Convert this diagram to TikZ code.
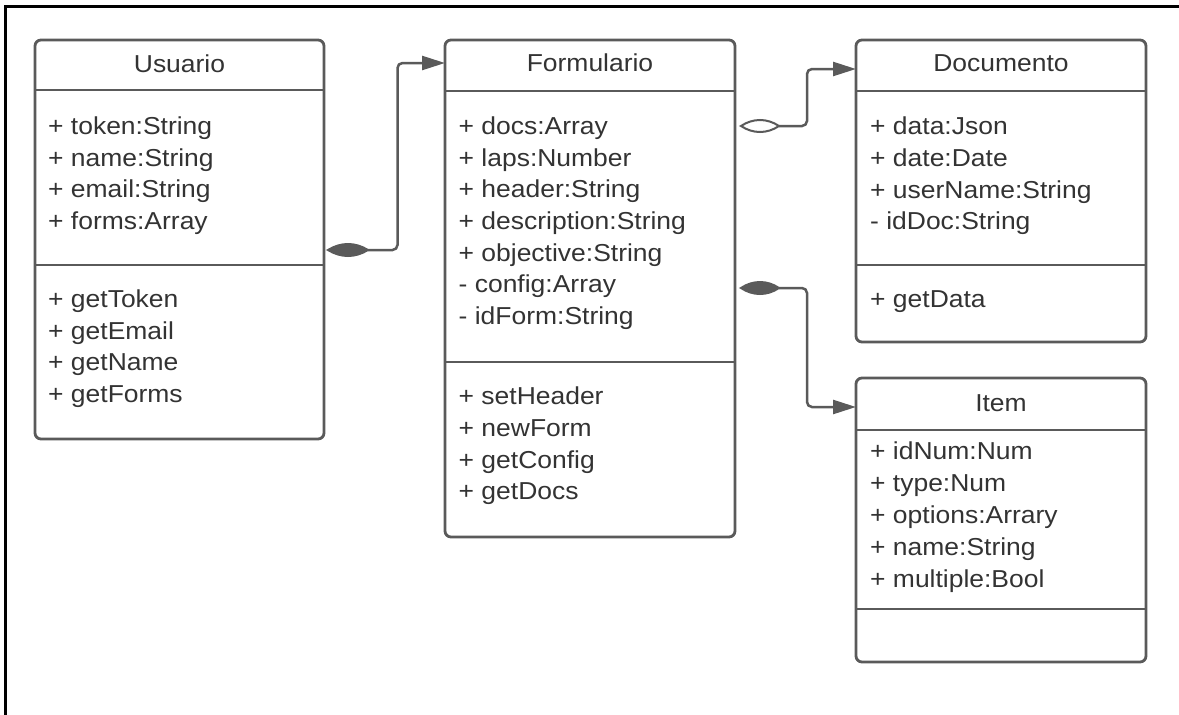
\documentclass[tikz,border=0pt]{standalone}
\usepackage{fontspec}
\setmainfont{Liberation Sans}[FakeStretch=1.08]
\usetikzlibrary{arrows.meta,calc}
\definecolor{edgec}{HTML}{5A5A5A}
\definecolor{ink}{HTML}{333333}
\begin{document}
\begin{tikzpicture}[x=1pt,y=-1pt,
  cls/.style={draw=edgec, line width=2.8pt, rounded corners=6pt, fill=white, inner sep=0pt, outer sep=0pt},
  sepline/.style={draw=edgec, line width=2.8pt},
  attr/.style={anchor=mid west, inner sep=0pt, text=ink, font=\fontsize{24.5}{28}\selectfont},
  ttl/.style={anchor=mid, inner sep=0pt, text=ink, font=\fontsize{24.5}{28}\selectfont},
  conn/.style={draw=edgec, line width=2.5pt, rounded corners=5pt},
  tipend/.style={-{Triangle[length=23pt,width=14pt]}},
  lensfull/.style={draw=edgec, line width=2pt, fill=edgec},
  lensopen/.style={draw=edgec, line width=2pt, fill=white},
  frameline/.style={draw=black, line width=3.3pt}]
\useasboundingbox (0,0) rectangle (1179,715);
% outer frame (top and left edges)
\draw[frameline] (4,6.5) -- (1179,6.5);
\draw[frameline] (5.7,5) -- (5.7,715);

% class boxes
\node[cls, minimum width=289pt, minimum height=399pt] (u) at (179.5,239.5) {};
\node[cls, minimum width=290pt, minimum height=497pt] (f) at (590,288.5) {};
\node[cls, minimum width=290pt, minimum height=302pt] (d) at (1001,191) {};
\node[cls, minimum width=290pt, minimum height=284pt] (i) at (1001,520) {};

% separators
\draw[sepline] (u.west |- 0,90) -- (u.east |- 0,90);
\draw[sepline] (u.west |- 0,265) -- (u.east |- 0,265);
\draw[sepline] (f.west |- 0,91) -- (f.east |- 0,91);
\draw[sepline] (f.west |- 0,362) -- (f.east |- 0,362);
\draw[sepline] (d.west |- 0,91) -- (d.east |- 0,91);
\draw[sepline] (d.west |- 0,265) -- (d.east |- 0,265);
\draw[sepline] (i.west |- 0,430) -- (i.east |- 0,430);
\draw[sepline] (i.west |- 0,609) -- (i.east |- 0,609);

% titles
\node[ttl] (ut) at (179.5,69.5) {Usuario};
\node[ttl] (ft) at (590,68.5) {Formulario};
\node[ttl] (dt) at (1001,69) {Documento};
\node[ttl] (it) at (1001,408.5) {Item};

% Usuario
\foreach \t [count=\k] in {+ token:String,+ name:String,+ email:String,+ forms:Array}
  \node[attr] (ua\k) at (48,{132+31.6*(\k-1)}) {\t};
\foreach \t [count=\k] in {+ getToken,+ getEmail,+ getName,+ getForms}
  \node[attr] (um\k) at (48,{305+31.6*(\k-1)}) {\t};

% Formulario
\foreach \t [count=\k] in {+ docs:Array,+ laps:Number,+ header:String,+ description:String,+ objective:String,- config:Array,- idForm:String}
  \node[attr] (fa\k) at (458.5,{131.7+31.7*(\k-1)}) {\t};
\foreach \t [count=\k] in {+ setHeader,+ newForm,+ getConfig,+ getDocs}
  \node[attr] (fm\k) at (458.5,{402+31.7*(\k-1)}) {\t};

% Documento
\foreach \t [count=\k] in {+ data:Json,+ date:Date,+ userName:String,- idDoc:String}
  \node[attr] (da\k) at (870,{132+31.7*(\k-1)}) {\t};
\node[attr] (dm1) at (870,305) {+ getData};

% Item
\foreach \t [count=\k] in {+ idNum:Num,+ type:Num,+ options:Arrary,+ name:String,+ multiple:Bool}
  \node[attr] (ia\k) at (870,{457+31.9*(\k-1)}) {\t};

% lens end points
\coordinate (l1a) at ($(u.east |- 0,250)+(4,0)$);
\coordinate (l1b) at ($(l1a)+(40,0)$);
\coordinate (l2a) at ($(f.east |- 0,126)+(6,0)$);
\coordinate (l2b) at ($(l2a)+(38,0)$);
\coordinate (l3a) at ($(f.east |- 0,288)+(6,0)$);
\coordinate (l3b) at ($(l3a)+(38,0)$);

% connectors
\draw[conn,tipend] (l1b) -| (397.5,63) -- (f.west |- 0,63);
\draw[conn,tipend] (l2b) -| (807,69) -- (d.west |- 0,69);
\draw[conn,tipend] (l3b) -| (807,407) -- (i.west |- 0,407);

% aggregation / composition markers
\path[lensfull] (l1a) .. controls +(13,-8) and +(-13,-8) .. (l1b) .. controls +(-13,8) and +(13,8) .. (l1a) -- cycle;
\path[lensopen] (l2a) .. controls +(12,-8) and +(-12,-8) .. (l2b) .. controls +(-12,8) and +(12,8) .. (l2a) -- cycle;
\path[lensfull] (l3a) .. controls +(12,-8) and +(-12,-8) .. (l3b) .. controls +(-12,8) and +(12,8) .. (l3a) -- cycle;
\end{tikzpicture}
\end{document}
